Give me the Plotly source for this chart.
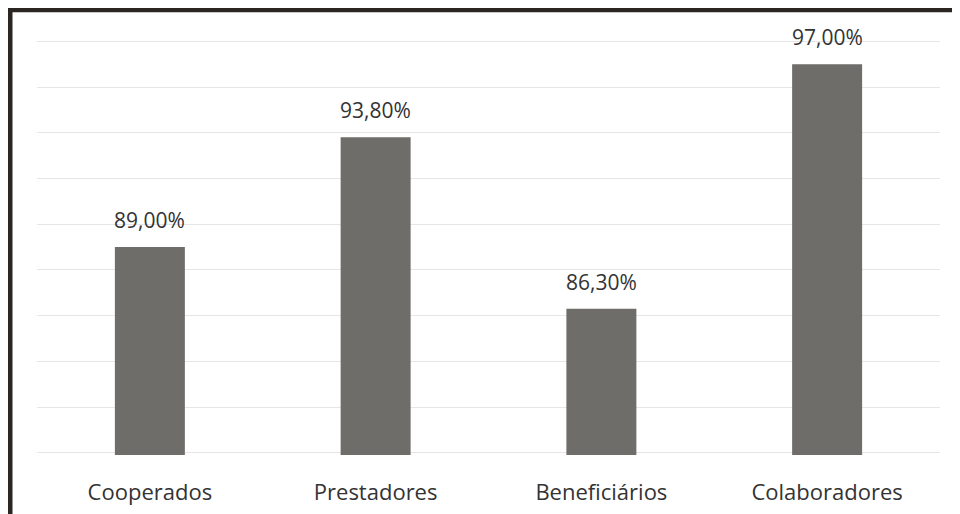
import plotly.graph_objects as go

categories = ["Cooperados", "Prestadores", "Beneficiários", "Colaboradores"]
values = [89.0, 93.8, 86.3, 97.0]
labels = ["89,00%", "93,80%", "86,30%", "97,00%"]
y_ticks = [80, 82, 84, 86, 88, 90, 92, 94, 96, 98]

FONT = "Open Sans"

fig = go.Figure()
fig.add_trace(go.Bar(
    x=categories,
    y=values,
    marker=dict(color="#6f6d6a", line=dict(width=0)),
    width=0.31,
    hoverinfo="skip",
))

for c, v, t in zip(categories, values, labels):
    fig.add_annotation(
        x=c, y=v, text=t, showarrow=False,
        yanchor="bottom", yshift=11,
        font=dict(family=FONT, size=21, color="#333333"),
    )

fig.update_layout(
    width=952, height=506,
    margin=dict(l=29, r=20, t=31, b=59, autoexpand=False),
    paper_bgcolor="white",
    plot_bgcolor="white",
    showlegend=False,
    font=dict(family=FONT, size=21, color="#333333"),
    xaxis=dict(
        automargin=False,
        showgrid=False, showline=False, zeroline=False,
        ticks="outside", ticklen=18, tickcolor="rgba(0,0,0,0)",
        tickfont=dict(family=FONT, size=22, color="#333333"),
    ),
    yaxis=dict(
        automargin=False,
        range=[79.9, 98.1], tickvals=y_ticks, showticklabels=False,
        showgrid=True, gridcolor="#e6e6e6", gridwidth=1,
        zeroline=False, showline=False,
    ),
    shapes=[dict(
        type="rect", xref="paper", yref="paper",
        x0=-0.0299, x1=1.05, y0=-0.25, y1=1.0704,
        line=dict(color="#2b2622", width=5),
        fillcolor="rgba(0,0,0,0)", layer="above",
    )],
)

fig.write_html("out.html")
